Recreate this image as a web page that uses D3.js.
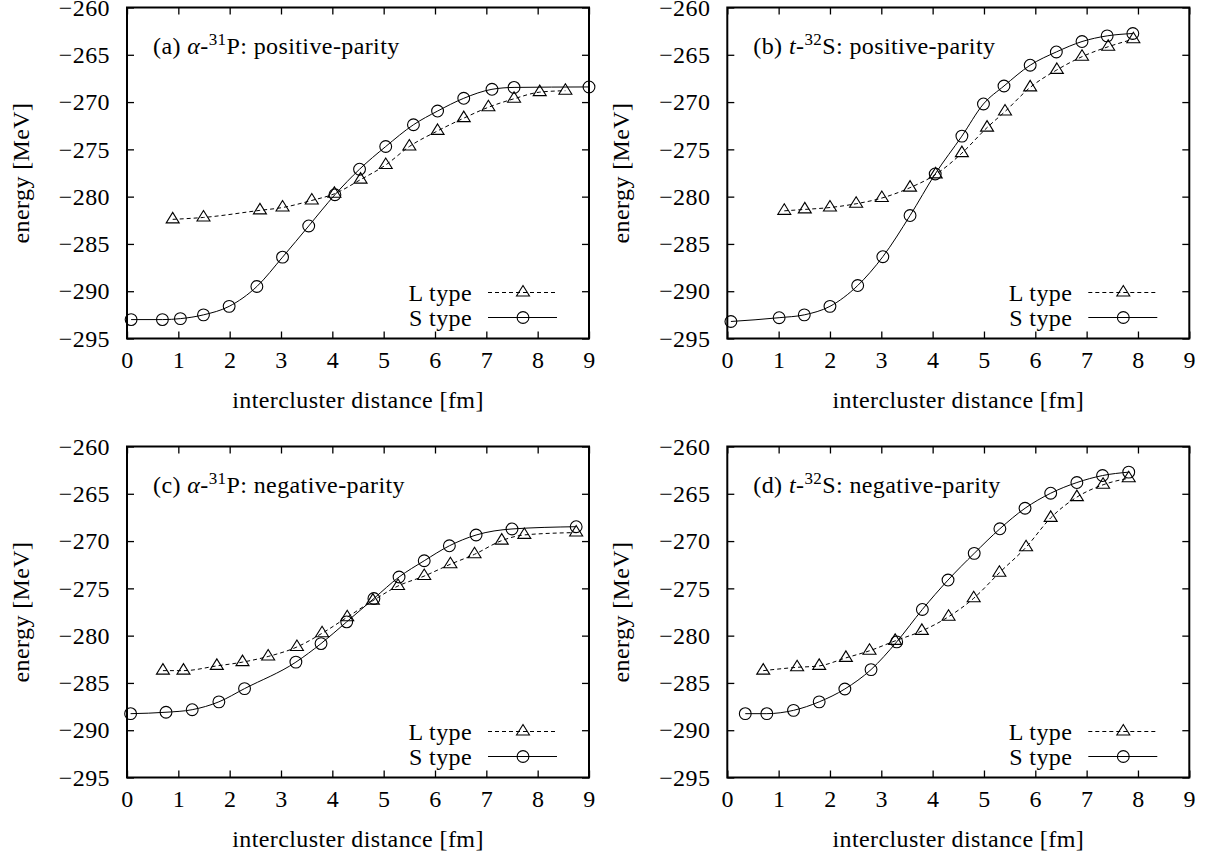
<!DOCTYPE html>
<html>
<head>
<meta charset="utf-8">
<script src="https://cdn.jsdelivr.net/npm/d3@7"></script>
<style>
  html, body { margin: 0; padding: 0; background: #fff; }
  svg { display: block; }
  text { font-family: "Liberation Serif", "DejaVu Serif", serif; fill: #000; letter-spacing: 0.4px; }
</style>
</head>
<body>
<svg id="chart" width="1211" height="860"></svg>
<script>
// ---------------- data ----------------
const xTicks = [0, 1, 2, 3, 4, 5, 6, 7, 8, 9];
const yTicks = [-295, -290, -285, -280, -275, -270, -265, -260];
const xLabel = "intercluster distance [fm]";
const yLabel = "energy [MeV]";
const legendLabels = ["L type", "S type"];

// (a) alpha-31P positive parity
const distA_S = [0.08, 0.69, 1.04, 1.49, 1.99, 2.53, 3.03, 3.54, 4.05, 4.53, 5.04, 5.58, 6.05, 6.56, 7.11, 7.54, 9.0];
const enA_S   = [-293.0, -293.0, -292.9, -292.5, -291.6, -289.5, -286.4, -283.1, -279.8, -277.1, -274.7, -272.4, -270.95, -269.6, -268.65, -268.45, -268.4];
const distA_L = [0.89, 1.49, 2.59, 3.03, 3.6, 4.04, 4.55, 5.04, 5.5, 6.05, 6.56, 7.04, 7.54, 8.04, 8.54];
const enA_L   = [-282.4, -282.2, -281.45, -281.15, -280.4, -279.7, -278.2, -276.65, -274.7, -273.05, -271.7, -270.55, -269.65, -268.95, -268.8];

// (b) t-32S positive parity
const distB_S = [0.07, 1.01, 1.5, 2.0, 2.54, 3.03, 3.56, 4.05, 4.57, 4.99, 5.39, 5.9, 6.41, 6.91, 7.4, 7.9];
const enB_S   = [-293.2, -292.8, -292.5, -291.6, -289.4, -286.35, -282.0, -277.6, -273.6, -270.2, -268.3, -266.1, -264.7, -263.6, -263.0, -262.75];
const distB_L = [1.11, 1.51, 2.0, 2.51, 3.01, 3.56, 4.06, 4.57, 5.06, 5.41, 5.9, 6.42, 6.91, 7.42, 7.91];
const enB_L   = [-281.5, -281.35, -281.15, -280.75, -280.15, -279.05, -277.65, -275.4, -272.7, -271.0, -268.45, -266.6, -265.2, -264.15, -263.35];

// (c) alpha-31P negative parity
const distC_S = [0.07, 0.76, 1.27, 1.79, 2.29, 3.29, 3.78, 4.28, 4.81, 5.3, 5.79, 6.28, 6.8, 7.5, 8.75];
const enC_S   = [-288.25, -288.1, -287.83, -287.0, -285.6, -282.8, -280.84, -278.54, -276.07, -273.8, -272.08, -270.5, -269.36, -268.72, -268.48];
const distC_L = [0.7, 1.1, 1.75, 2.25, 2.75, 3.31, 3.8, 4.29, 4.79, 5.28, 5.79, 6.3, 6.77, 7.3, 7.74, 8.75];
const enC_L   = [-283.7, -283.7, -283.2, -282.8, -282.2, -281.2, -279.75, -278.05, -276.3, -274.75, -273.7, -272.45, -271.4, -269.95, -269.35, -269.1];

// (d) t-32S negative parity
const distD_S = [0.35, 0.77, 1.29, 1.79, 2.29, 2.8, 3.3, 3.8, 4.3, 4.81, 5.31, 5.8, 6.3, 6.81, 7.31, 7.82];
const enD_S   = [-288.25, -288.25, -287.9, -287.0, -285.64, -283.59, -280.66, -277.23, -274.12, -271.3, -268.7, -266.53, -264.94, -263.81, -263.07, -262.71];
const distD_L = [0.7, 1.36, 1.79, 2.31, 2.77, 3.27, 3.79, 4.31, 4.8, 5.3, 5.82, 6.3, 6.81, 7.32, 7.82];
const enD_L   = [-283.7, -283.35, -283.2, -282.35, -281.6, -280.55, -279.5, -278.0, -276.05, -273.35, -270.65, -267.55, -265.35, -264.05, -263.35];

const panelTags = ["(a)", "(b)", "(c)", "(d)"];
const panelProj = ["α", "t", "α", "t"];
const panelMass = ["31", "32", "31", "32"];
const panelNuc  = ["P", "S", "P", "S"];
const panelParity = ["positive-parity", "positive-parity", "negative-parity", "negative-parity"];

// ---------------- layout ----------------
const svg = d3.select("#chart");
const W = 462, H = 331;
const lefts = [127, 727.3, 127, 727.3];
const tops  = [7.5, 7.5, 446.5, 446.5];
const FS = 24;

const panels = [
  {S: [distA_S, enA_S], L: [distA_L, enA_L]},
  {S: [distB_S, enB_S], L: [distB_L, enB_L]},
  {S: [distC_S, enC_S], L: [distC_L, enC_L]},
  {S: [distD_S, enD_S], L: [distD_L, enD_L]}
];

const triPath = "M0,-7L6.5,3.5L-6.5,3.5Z";
const R = 5.9;

panels.forEach((p, i) => {
  const g = svg.append("g").attr("transform", `translate(${lefts[i]},${tops[i]})`);
  const x = d3.scaleLinear().domain([0, 9]).range([0, W]);
  const y = d3.scaleLinear().domain([-295, -260]).range([H, 0]);

  const fmt = d => d < 0 ? "\u2212" + Math.abs(d) : String(d);
  const ax = g.append("g").attr("transform", `translate(0,${H})`)
    .call(d3.axisBottom(x).tickValues(xTicks).tickSizeInner(-7).tickSizeOuter(0).tickPadding(12).tickFormat(fmt));
  const ay = g.append("g")
    .call(d3.axisLeft(y).tickValues(yTicks).tickSizeInner(-7).tickSizeOuter(0).tickPadding(17).tickFormat(fmt));
  const at = g.append("g")
    .call(d3.axisTop(x).tickValues(xTicks).tickSizeInner(-7).tickSizeOuter(0).tickFormat(""));
  const ar = g.append("g").attr("transform", `translate(${W},0)`)
    .call(d3.axisRight(y).tickValues(yTicks).tickSizeInner(-7).tickSizeOuter(0).tickFormat(""));
  [ax, ay, at, ar].forEach(a => {
    a.select(".domain").remove();
    a.selectAll(".tick line").attr("stroke", "#000").attr("stroke-width", 1.3);
    a.selectAll(".tick text").attr("font-size", FS).attr("font-family", "Liberation Serif").attr("fill", "#000");
  });

  g.append("rect").attr("x", 0).attr("y", 0).attr("width", W).attr("height", H)
    .attr("fill", "none").attr("stroke", "#000").attr("stroke-width", 2);

  g.append("text").attr("x", W / 2).attr("y", H + 61).attr("text-anchor", "middle")
    .attr("dominant-baseline", "central").attr("font-size", FS).text(xLabel);
  g.append("text").attr("transform", `translate(${21 - lefts[i] + (i % 2 ? 600 : 0)},${H / 2}) rotate(-90)`)
    .attr("text-anchor", "middle").attr("dominant-baseline", "central").attr("font-size", FS).text(yLabel);

  const t = g.append("text").attr("x", 26).attr("y", 46).attr("font-size", FS);
  t.append("tspan").text(panelTags[i] + " ");
  t.append("tspan").attr("font-style", "italic").text(panelProj[i]);
  t.append("tspan").text("-");
  t.append("tspan").attr("font-size", 17).attr("dy", -9).text(panelMass[i]);
  t.append("tspan").attr("dy", 9).text(panelNuc[i] + ": " + panelParity[i]);

  const line = d3.line().x(d => x(d[0])).y(d => y(d[1])).curve(d3.curveMonotoneX);
  const zipS = p.S[0].map((v, k) => [v, p.S[1][k]]);
  const zipL = p.L[0].map((v, k) => [v, p.L[1][k]]);

  g.append("path").datum(zipL).attr("d", line).attr("fill", "none")
    .attr("stroke", "#000").attr("stroke-width", 1).attr("stroke-dasharray", "4,3");
  g.append("path").datum(zipS).attr("d", line).attr("fill", "none")
    .attr("stroke", "#000").attr("stroke-width", 1);

  g.selectAll(".tri").data(zipL).join("path").attr("class", "tri")
    .attr("transform", d => `translate(${x(d[0])},${y(d[1])})`).attr("d", triPath)
    .attr("fill", "none").attr("stroke", "#000").attr("stroke-width", 1.1);
  g.selectAll(".circ").data(zipS).join("circle").attr("class", "circ")
    .attr("cx", d => x(d[0])).attr("cy", d => y(d[1])).attr("r", R)
    .attr("fill", "none").attr("stroke", "#000").attr("stroke-width", 1.1);

  const lg = g.append("g");
  const ly = [H - 46, H - 21];
  legendLabels.forEach((lab, k) => {
    lg.append("text").attr("x", W - 117).attr("y", ly[k]).attr("text-anchor", "end")
      .attr("dominant-baseline", "central").attr("font-size", FS).text(lab);
    lg.append("line").attr("x1", W - 101).attr("x2", W - 32).attr("y1", ly[k]).attr("y2", ly[k])
      .attr("stroke", "#000").attr("stroke-width", 1).attr("stroke-dasharray", k === 0 ? "4,3" : null);
    if (k === 0) {
      lg.append("path").attr("transform", `translate(${W - 66},${ly[k]})`).attr("d", triPath)
        .attr("fill", "none").attr("stroke", "#000").attr("stroke-width", 1.1);
    } else {
      lg.append("circle").attr("cx", W - 66).attr("cy", ly[k]).attr("r", R)
        .attr("fill", "none").attr("stroke", "#000").attr("stroke-width", 1.1);
    }
  });
});
</script>
</body>
</html>
